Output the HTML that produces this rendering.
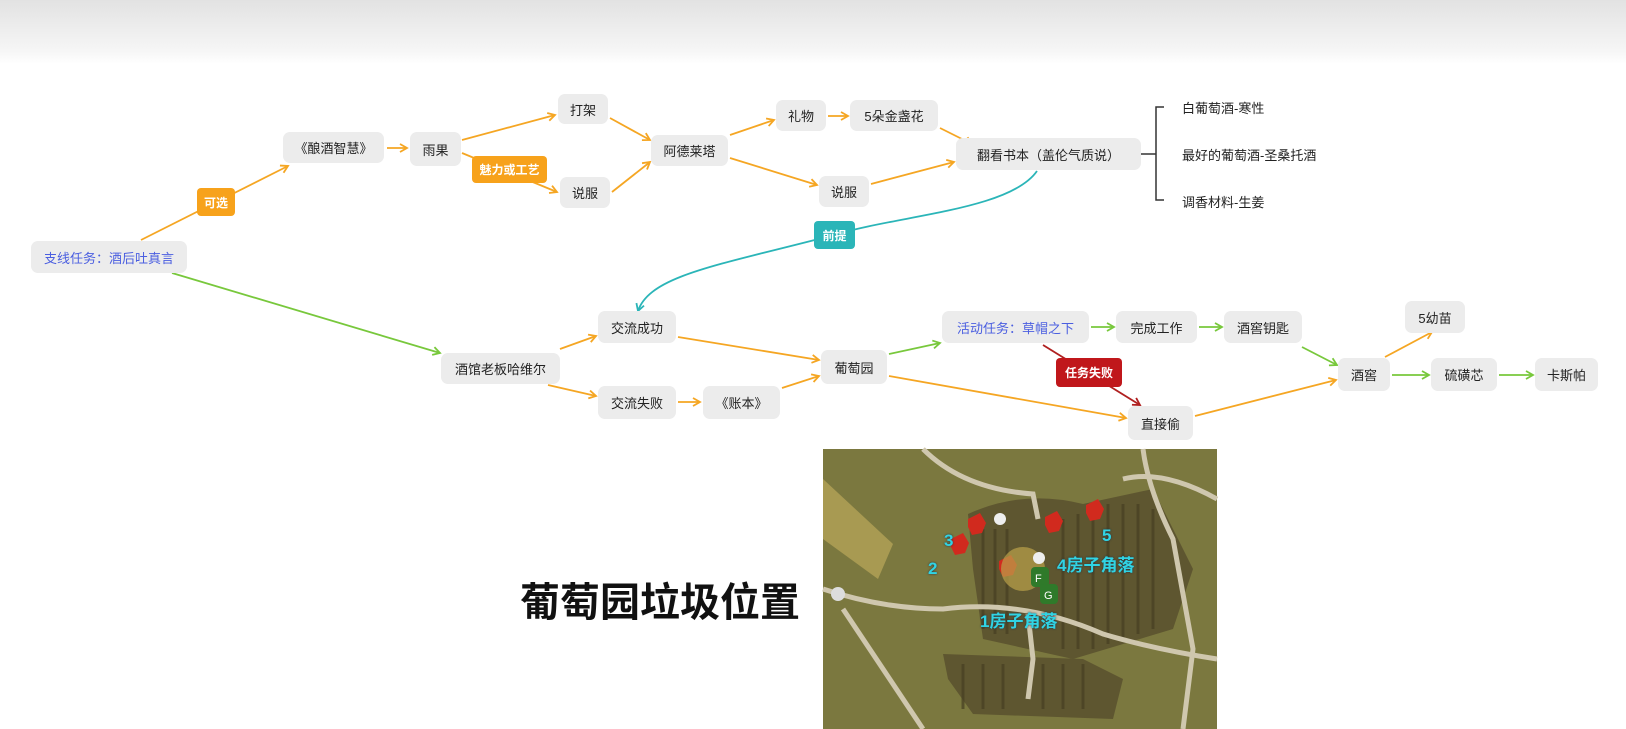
<!DOCTYPE html>
<html><head><meta charset="utf-8"><style>
*{margin:0;padding:0;box-sizing:border-box}
body{width:1626px;height:729px;background:#fff;position:relative;overflow:hidden;font-family:"Liberation Sans","Noto Sans CJK SC",sans-serif}
.top{position:absolute;left:0;top:0;width:1626px;height:64px;background:linear-gradient(#e2e2e2,#f6f6f6 80%,#fff)}
.n{position:absolute;background:#ececec;border-radius:7px;font-size:13px;color:#222;display:flex;align-items:center;justify-content:center;white-space:nowrap}
.b{color:#4a5ee0}
.t{position:absolute;border-radius:4px;font-size:12px;color:#fff;display:flex;align-items:center;justify-content:center;font-weight:bold}
.txt{position:absolute;font-size:13px;color:#222;white-space:nowrap}
svg{position:absolute;left:0;top:0}
.ml{position:absolute;color:#30d4e4;font-weight:bold;font-size:17px;white-space:nowrap;text-shadow:0 0 2px #234}
</style></head><body>
<div class="top"></div>
<svg width="1626" height="729">
<defs>
<marker id="o" markerWidth="10" markerHeight="10" refX="8" refY="5" orient="auto" markerUnits="userSpaceOnUse"><path d="M1,1 L8,5 L1,9" fill="none" stroke="#f5a623" stroke-width="1.8"/></marker>
<marker id="g" markerWidth="10" markerHeight="10" refX="8" refY="5" orient="auto" markerUnits="userSpaceOnUse"><path d="M1,1 L8,5 L1,9" fill="none" stroke="#78c83c" stroke-width="1.8"/></marker>
<marker id="c" markerWidth="10" markerHeight="10" refX="8" refY="5" orient="auto" markerUnits="userSpaceOnUse"><path d="M1,1 L8,5 L1,9" fill="none" stroke="#2bb5b8" stroke-width="1.8"/></marker>
<marker id="r" markerWidth="10" markerHeight="10" refX="8" refY="5" orient="auto" markerUnits="userSpaceOnUse"><path d="M1,1 L8,5 L1,9" fill="none" stroke="#b02020" stroke-width="1.8"/></marker>
</defs>
<g fill="none" stroke-width="1.8" stroke="#f5a623">
<line x1="141" y1="240" x2="288" y2="166" marker-end="url(#o)"/>
<line x1="387" y1="148" x2="407" y2="148" marker-end="url(#o)"/>
<line x1="462" y1="140" x2="555" y2="115" marker-end="url(#o)"/>
<line x1="462" y1="153" x2="557" y2="192" marker-end="url(#o)"/>
<line x1="610" y1="118" x2="650" y2="140" marker-end="url(#o)"/>
<line x1="612" y1="192" x2="650" y2="162" marker-end="url(#o)"/>
<line x1="730" y1="135" x2="774" y2="120" marker-end="url(#o)"/>
<line x1="730" y1="158" x2="817" y2="185" marker-end="url(#o)"/>
<line x1="828" y1="116" x2="848" y2="116" marker-end="url(#o)"/>
<line x1="940" y1="128" x2="972" y2="144" marker-end="url(#o)"/>
<line x1="871" y1="184" x2="954" y2="162" marker-end="url(#o)"/>
<line x1="560" y1="349" x2="596" y2="336" marker-end="url(#o)"/>
<line x1="548" y1="385" x2="596" y2="396" marker-end="url(#o)"/>
<line x1="678" y1="337" x2="819" y2="360" marker-end="url(#o)"/>
<line x1="678" y1="402" x2="700" y2="402" marker-end="url(#o)"/>
<line x1="782" y1="388" x2="819" y2="376" marker-end="url(#o)"/>
<line x1="889" y1="376" x2="1126" y2="418" marker-end="url(#o)"/>
<line x1="1195" y1="416" x2="1336" y2="380" marker-end="url(#o)"/>
<line x1="1385" y1="357" x2="1432" y2="332" marker-end="url(#o)"/>
</g>
<g fill="none" stroke-width="1.8" stroke="#78c83c">
<line x1="172" y1="273" x2="440" y2="353" marker-end="url(#g)"/>
<line x1="889" y1="354" x2="940" y2="343" marker-end="url(#g)"/>
<line x1="1091" y1="327" x2="1114" y2="327" marker-end="url(#g)"/>
<line x1="1199" y1="327" x2="1222" y2="327" marker-end="url(#g)"/>
<line x1="1302" y1="347" x2="1337" y2="365" marker-end="url(#g)"/>
<line x1="1392" y1="375" x2="1429" y2="375" marker-end="url(#g)"/>
<line x1="1499" y1="375" x2="1533" y2="375" marker-end="url(#g)"/>
</g>
<path d="M1037,171 C1010,210 900,215 834,235 C720,265 650,275 638,311" fill="none" stroke="#2bb5b8" stroke-width="1.8" marker-end="url(#c)"/>
<line x1="1043" y1="345" x2="1140" y2="405" stroke="#b02020" stroke-width="1.8" marker-end="url(#r)"/>
<path d="M1141,154 H1156 M1164,107 H1156 V200 H1164" fill="none" stroke="#333" stroke-width="1.5"/>
</svg>
<div class="n b" style="left:31px;top:241px;width:156px;height:32px">支线任务：酒后吐真言</div>
<div class="t" style="left:197px;top:188px;width:38px;height:28px;background:#f7a21b">可选</div>
<div class="n" style="left:283px;top:132px;width:101px;height:31px">《酿酒智慧》</div>
<div class="n" style="left:410px;top:132px;width:51px;height:34px">雨果</div>
<div class="t" style="left:472px;top:156px;width:75px;height:27px;background:#f7a21b">魅力或工艺</div>
<div class="n" style="left:558px;top:94px;width:50px;height:30px">打架</div>
<div class="n" style="left:560px;top:177px;width:50px;height:31px">说服</div>
<div class="n" style="left:651px;top:135px;width:77px;height:31px">阿德莱塔</div>
<div class="n" style="left:776px;top:100px;width:50px;height:31px">礼物</div>
<div class="n" style="left:850px;top:100px;width:88px;height:31px">5朵金盏花</div>
<div class="n" style="left:819px;top:176px;width:50px;height:31px">说服</div>
<div class="n" style="left:956px;top:138px;width:185px;height:32px">翻看书本（盖伦气质说）</div>
<div class="txt" style="left:1182px;top:98px">白葡萄酒-寒性</div>
<div class="txt" style="left:1182px;top:145px">最好的葡萄酒-圣桑托酒</div>
<div class="txt" style="left:1182px;top:192px">调香材料-生姜</div>
<div class="t" style="left:814px;top:221px;width:41px;height:28px;background:#2bb5b8">前提</div>
<div class="n" style="left:441px;top:353px;width:119px;height:31px">酒馆老板哈维尔</div>
<div class="n" style="left:598px;top:311px;width:78px;height:32px">交流成功</div>
<div class="n" style="left:598px;top:386px;width:78px;height:33px">交流失败</div>
<div class="n" style="left:703px;top:386px;width:77px;height:33px">《账本》</div>
<div class="n" style="left:821px;top:350px;width:66px;height:34px">葡萄园</div>
<div class="n b" style="left:942px;top:311px;width:147px;height:32px">活动任务：草帽之下</div>
<div class="n" style="left:1116px;top:311px;width:81px;height:32px">完成工作</div>
<div class="n" style="left:1224px;top:311px;width:78px;height:32px">酒窖钥匙</div>
<div class="t" style="left:1056px;top:358px;width:66px;height:29px;background:#c0171b">任务失败</div>
<div class="n" style="left:1128px;top:406px;width:65px;height:34px">直接偷</div>
<div class="n" style="left:1338px;top:358px;width:52px;height:33px">酒窖</div>
<div class="n" style="left:1405px;top:301px;width:60px;height:32px">5幼苗</div>
<div class="n" style="left:1431px;top:358px;width:66px;height:33px">硫磺芯</div>
<div class="n" style="left:1535px;top:358px;width:63px;height:33px">卡斯帕</div>
<div style="position:absolute;left:520px;top:570px;font-size:40px;font-weight:bold;color:#111;font-family:'Liberation Sans','Noto Sans CJK SC',sans-serif;white-space:nowrap">葡萄园垃圾位置</div>
<svg width="1626" height="729" style="left:0;top:0">
<g transform="translate(823,449)">
<rect width="394" height="280" fill="#7b783f"/>
<path d="M0,30 L70,95 L55,130 L0,90Z" fill="#a89a52"/>
<path d="M145,65 Q200,40 260,55 L330,40 L370,120 L350,180 L250,210 L160,190 L150,120Z" fill="#5e5630"/>
<path d="M120,205 L260,210 L300,230 L290,270 L150,265 L125,230Z" fill="#5e5630"/>
<g stroke="#463f22" stroke-width="3" opacity=".7">
<line x1="160" y1="80" x2="160" y2="180"/><line x1="172" y1="80" x2="172" y2="185"/><line x1="184" y1="80" x2="184" y2="185"/><line x1="240" y1="70" x2="240" y2="200"/><line x1="255" y1="65" x2="255" y2="200"/><line x1="270" y1="60" x2="270" y2="200"/><line x1="285" y1="55" x2="285" y2="195"/><line x1="300" y1="55" x2="300" y2="190"/><line x1="315" y1="55" x2="315" y2="185"/><line x1="330" y1="60" x2="330" y2="180"/><line x1="140" y1="215" x2="140" y2="260"/><line x1="160" y1="215" x2="160" y2="260"/><line x1="180" y1="215" x2="180" y2="260"/><line x1="220" y1="215" x2="220" y2="260"/><line x1="240" y1="215" x2="240" y2="260"/><line x1="260" y1="215" x2="260" y2="260"/>
</g>
<g fill="none" stroke="#cfc7ae" stroke-width="5">
<path d="M0,140 Q60,160 120,160 Q200,150 280,185 Q330,200 394,210"/>
<path d="M20,160 Q60,220 100,280"/>
<path d="M100,0 Q140,40 210,45 L215,70"/>
<path d="M320,0 Q325,40 350,90 L370,200 L360,280"/>
<path d="M300,30 Q340,20 394,50"/>
<path d="M205,165 L210,210 L205,250"/>
</g>
<circle cx="15" cy="145" r="7" fill="#ddd"/>
<path d="M128,90 l12,-6 l6,10 l-4,10 l-10,2 l-4,-8Z" fill="#d12a1e"/>
<path d="M145,70 l12,-6 l6,10 l-4,10 l-10,2 l-4,-8Z" fill="#d12a1e"/>
<path d="M176,112 l12,-6 l6,10 l-4,10 l-10,2 l-4,-8Z" fill="#d12a1e"/>
<path d="M222,68 l12,-6 l6,10 l-4,10 l-10,2 l-4,-8Z" fill="#d12a1e"/>
<path d="M263,56 l12,-6 l6,10 l-4,10 l-10,2 l-4,-8Z" fill="#d12a1e"/>
<circle cx="200" cy="120" r="22" fill="#bba24a" opacity=".7"/>
<rect x="208" y="118" width="18" height="20" rx="4" fill="#2f7a2a"/>
<rect x="217" y="135" width="18" height="20" rx="4" fill="#2f7a2a"/>
<text x="212" y="133" font-size="11" fill="#fff" font-family="Liberation Sans">F</text>
<text x="221" y="150" font-size="11" fill="#fff" font-family="Liberation Sans">G</text>
<circle cx="177" cy="70" r="6" fill="#eee"/><circle cx="216" cy="109" r="6" fill="#eee"/>
</g>
</svg>
<div class="ml" style="left:944px;top:531px">3</div>
<div class="ml" style="left:928px;top:559px">2</div>
<div class="ml" style="left:1102px;top:526px">5</div>
<div class="ml" style="left:1057px;top:551px">4房子角落</div>
<div class="ml" style="left:980px;top:607px">1房子角落</div>
</body></html>
